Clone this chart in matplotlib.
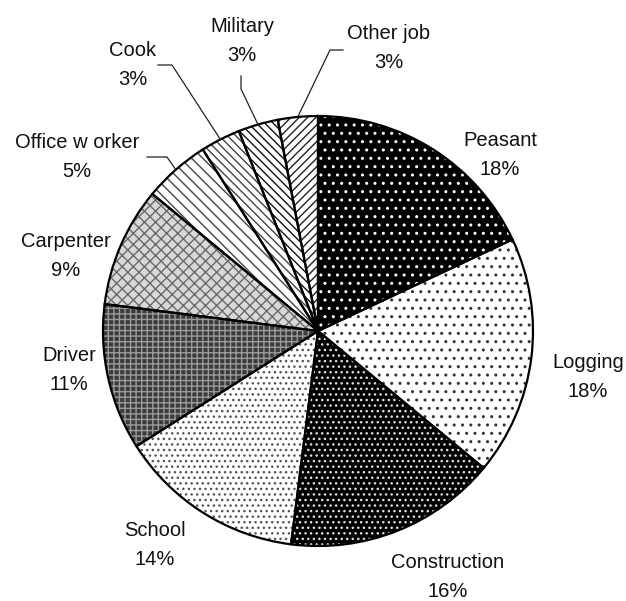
import numpy as np
import matplotlib
matplotlib.use('Agg')
import matplotlib.pyplot as plt
from matplotlib.patches import Wedge

plt.rcParams['font.family'] = ['Liberation Sans', 'DejaVu Sans']
plt.rcParams['hatch.linewidth'] = 1.0

# data
jobs = ['Peasant', 'Logging', 'Construction', 'School', 'Driver',
        'Carpenter', 'Office w orker', 'Cook', 'Military', 'Other job']
shares = [18, 18, 16, 14, 11, 9, 5, 3, 3, 3]

# fill style per slice: face colour, hatch, hatch colour
styles = [
    ('black', '..', 'white'),
    ('white', '..', '#333333'),
    ('black', '...', '#dddddd'),
    ('white', '...', '#555555'),
    ('#3c3c3c', '+++', '#9a9a9a'),
    ('#d8d8d8', 'xxx', '#6a6a6a'),
    ('white', '\\\\\\', '#444444'),
    ('white', '\\\\\\\\', '#444444'),
    ('white', '\\\\\\\\', '#111111'),
    ('white', '////', '#222222'),
]

W, H = 626, 601
cx, cy, R = 318, H - 331, 215

# label block centres (pixels from top-left)
label_pos = [(500, 155), (588, 377), (448, 577), (155, 545), (69, 370),
             (66, 256), (77, 157), (133, 65), (242, 41), (389, 48)]
# leader line start points for the small slices
leaders = {6: [(147, 157), (167, 157)],
           7: [(158, 65), (172, 65)],
           8: [(241, 76), (241, 89)],
           9: [(343, 50), (330, 50)]}

fig = plt.figure(figsize=(W / 100, H / 100), dpi=100)
ax = fig.add_axes([0, 0, 1, 1])

wedges, _ = ax.pie(shares, startangle=90, counterclock=False,
                   radius=R, center=(cx, cy), frame=True,
                   wedgeprops=dict(linewidth=0))
ax.set_xlim(0, W)
ax.set_ylim(0, H)
ax.set_aspect('auto')
ax.axis('off')

for w, (fc, hatch, hc) in zip(wedges, styles):
    w.set_facecolor(fc)
    w.set_edgecolor(hc)
    w.set_hatch(hatch)
    w.set_linewidth(0)
    outline = Wedge(w.center, w.r, w.theta1, w.theta2, fill=False,
                    edgecolor='black', linewidth=1.6)
    ax.add_patch(outline)

for i, (name, val) in enumerate(zip(jobs, shares)):
    x, y = label_pos[i]
    ax.text(x, H - y, f'{name}\n{val}%', ha='center', va='center',
            fontsize=14.5, linespacing=1.7, color='#111111')
    if i in leaders:
        w = wedges[i]
        mid = np.deg2rad((w.theta1 + w.theta2) / 2)
        ex, ey = cx + R * np.cos(mid), cy + R * np.sin(mid)
        pts = [(px, H - py) for px, py in leaders[i]] + [(ex, ey)]
        xs, ys = zip(*pts)
        ax.plot(xs, ys, color='#222222', linewidth=0.9)

plt.savefig('out.png', dpi=100)
